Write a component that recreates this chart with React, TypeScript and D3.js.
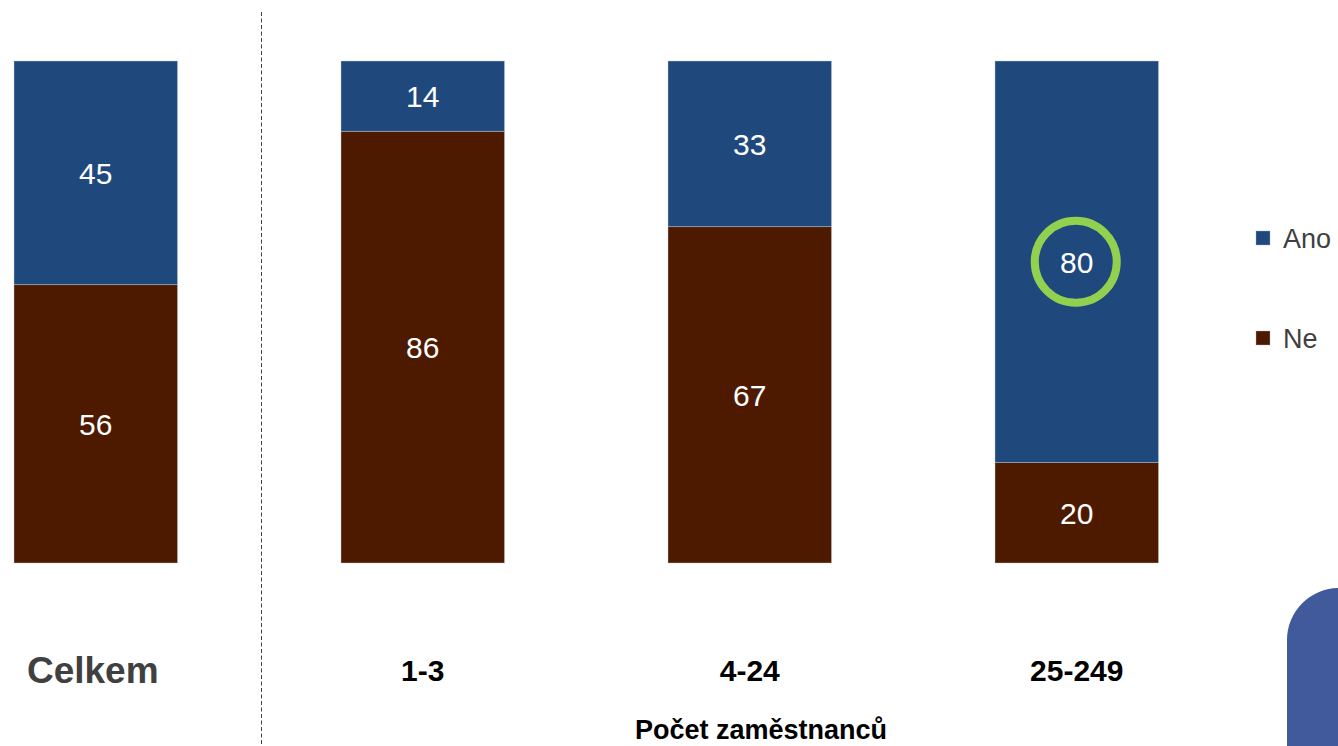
import React from "react";
import * as d3 from "d3";

const categories = ["Celkem", "1-3", "4-24", "25-249"];
const anoValues = [45, 14, 33, 80];
const neValues = [56, 86, 67, 20];
const seriesNames = ["Ano", "Ne"];
const axisTitle = "Počet zaměstnanců";
const highlighted = { category: "25-249", series: "Ano" };

const W = 1338;
const H = 746;
const colors: Record<string, string> = { Ano: "#1f497d", Ne: "#4d1a00" };

export default function App() {
  const rows = categories.map((c, i) => ({ cat: c, Ano: anoValues[i], Ne: neValues[i] }));
  const stack = d3.stack<any>().keys(["Ne", "Ano"]).offset(d3.stackOffsetExpand);
  const layers = stack(rows);

  const x = d3
    .scaleBand<string>()
    .domain(categories)
    .range([14 - 0.25 * 327, 14 - 0.25 * 327 + 327 * 4])
    .paddingInner(0.5)
    .paddingOuter(0.25);
  const y = d3.scaleLinear().domain([0, 1]).range([563, 61]);

  return (
    <svg
      width={W}
      height={H}
      style={{ position: "absolute", left: 0, top: 0, fontFamily: "'Liberation Sans', Arial, sans-serif" }}
    >
      <rect width={W} height={H} fill="#fff" />
      {layers.map((layer) => (
        <g key={layer.key}>
          {layer.map((d, i) => {
            const cat = categories[i];
            const x0 = x(cat)!;
            const y0 = y(d[1]);
            const y1 = y(d[0]);
            return (
              <g key={cat}>
                <rect
                  x={x0}
                  y={y0}
                  width={x.bandwidth()}
                  height={y1 - y0}
                  fill={colors[layer.key]}
                  stroke="#c8d0dc"
                  strokeOpacity={0.5}
                  strokeWidth={0.8}
                />
                <text
                  x={x0 + x.bandwidth() / 2}
                  y={(y0 + y1) / 2}
                  dy="0.36em"
                  textAnchor="middle"
                  fill="#fff"
                  fontSize={30}
                >
                  {(d.data as any)[layer.key]}
                </text>
              </g>
            );
          })}
        </g>
      ))}
      {(() => {
        const i = categories.indexOf(highlighted.category);
        const layer = layers.find((l) => l.key === highlighted.series)!;
        const d = layer[i];
        const cx = x(highlighted.category)! + x.bandwidth() / 2 - 1;
        const cy = (y(d[0]) + y(d[1])) / 2;
        return <circle cx={cx} cy={cy} r={41} fill="none" stroke="#92d050" strokeWidth={8} />;
      })()}
      <line x1={261.5} x2={261.5} y1={12} y2={H} stroke="#444" strokeWidth={1} strokeDasharray="4,2.5" />
      {categories.map((c, i) =>
        i === 0 ? (
          <text key={c} x={x(c)! + x.bandwidth() / 2 - 3} y={683} textAnchor="middle" fontSize={37} fontWeight="bold" fill="#404040">
            {c}
          </text>
        ) : (
          <text key={c} x={x(c)! + x.bandwidth() / 2} y={681} textAnchor="middle" fontSize={30} fontWeight="bold" fill="#000">
            {c}
          </text>
        )
      )}
      <text x={761} y={739} textAnchor="middle" fontSize={27} fontWeight="bold" fill="#000">
        {axisTitle}
      </text>
      {seriesNames.map((s, i) => (
        <g key={s} transform={`translate(1256, ${231 + i * 100})`}>
          <rect width={14} height={14} fill={colors[s]} stroke="#9fb0c8" strokeOpacity={0.4} />
          <text x={27} y={7} dy="0.36em" fontSize={27} fill="#404040">
            {s}
          </text>
        </g>
      ))}
      <path d={`M1287,${H} L1287,640 A52,52 0 0 1 1339,588 L${W},588 L${W},${H} Z`} fill="#415a9b" />
    </svg>
  );
}
